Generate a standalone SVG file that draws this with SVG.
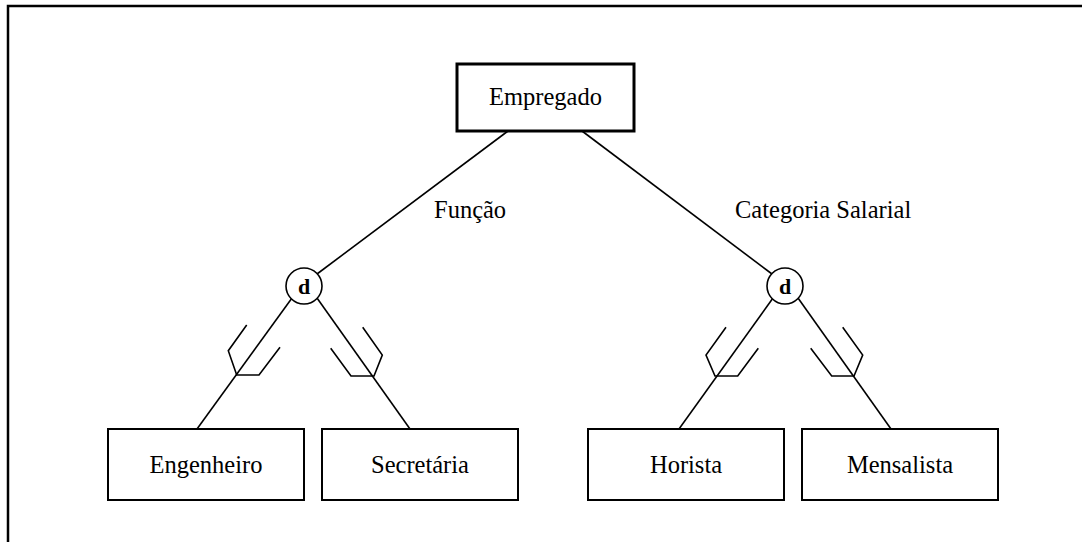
<svg xmlns="http://www.w3.org/2000/svg" width="1082" height="542" viewBox="0 0 1082 542">
<style>
.txt{font-family:"Liberation Serif","Times New Roman",serif;font-size:24.5px;fill:#000}
.box{fill:#fff;stroke:#000;stroke-width:2}
.ln{fill:none;stroke:#000;stroke-width:1.6}
.circ{fill:#fff;stroke:#000;stroke-width:1.6}
.d{font-family:"Liberation Serif","Times New Roman",serif;font-size:22px;font-weight:bold;fill:#000}
</style>
<rect width="1082" height="542" fill="#fff"/>
<path d="M8,542 V6 H1082" fill="none" stroke="#000" stroke-width="2.5"/>
<g id="connectors">
<line class="ln" x1="508" y1="131" x2="317" y2="274"/>
<line class="ln" x1="582" y1="131" x2="772" y2="274"/>
<line class="ln" x1="292" y1="298" x2="197" y2="429"/>
<line class="ln" x1="317" y1="298" x2="410" y2="429"/>
<line class="ln" x1="773" y1="298" x2="679" y2="429"/>
<line class="ln" x1="798" y1="298" x2="891" y2="429"/>
<polyline class="ln" points="246.7,325 228.3,350.7 236.7,375 259,375 280,347.3"/>
<polyline class="ln" points="362.7,327.3 382.3,355 374,376 351,376 330.7,348.3"/>
<polyline class="ln" points="726,327.3 706,355 715,376 737.7,376 758.3,348.3"/>
<polyline class="ln" points="842.7,327.3 862.7,355 854,376 831.7,376 810.7,348.3"/>
<text class="txt" x="434" y="218">Função</text>
<text class="txt" x="735" y="218">Categoria Salarial</text>
</g>
<g id="empregado">
<rect x="457" y="64" width="177" height="67" fill="#fff" stroke="#000" stroke-width="3"/>
<text class="txt" x="545.5" y="105" text-anchor="middle">Empregado</text>
</g>
<g id="d-funcao">
<circle class="circ" cx="304" cy="286" r="18"/>
<text class="d" x="304" y="294" text-anchor="middle">d</text>
</g>
<g id="d-categoria">
<circle class="circ" cx="785" cy="286" r="18"/>
<text class="d" x="785" y="294" text-anchor="middle">d</text>
</g>
<g id="engenheiro">
<rect class="box" x="108" y="429" width="196" height="71"/>
<text class="txt" x="206" y="473" text-anchor="middle">Engenheiro</text>
</g>
<g id="secretaria">
<rect class="box" x="322" y="429" width="196" height="71"/>
<text class="txt" x="420" y="473" text-anchor="middle">Secretária</text>
</g>
<g id="horista">
<rect class="box" x="588" y="429" width="196" height="71"/>
<text class="txt" x="686" y="473" text-anchor="middle">Horista</text>
</g>
<g id="mensalista">
<rect class="box" x="802" y="429" width="196" height="71"/>
<text class="txt" x="900" y="473" text-anchor="middle">Mensalista</text>
</g>
</svg>
